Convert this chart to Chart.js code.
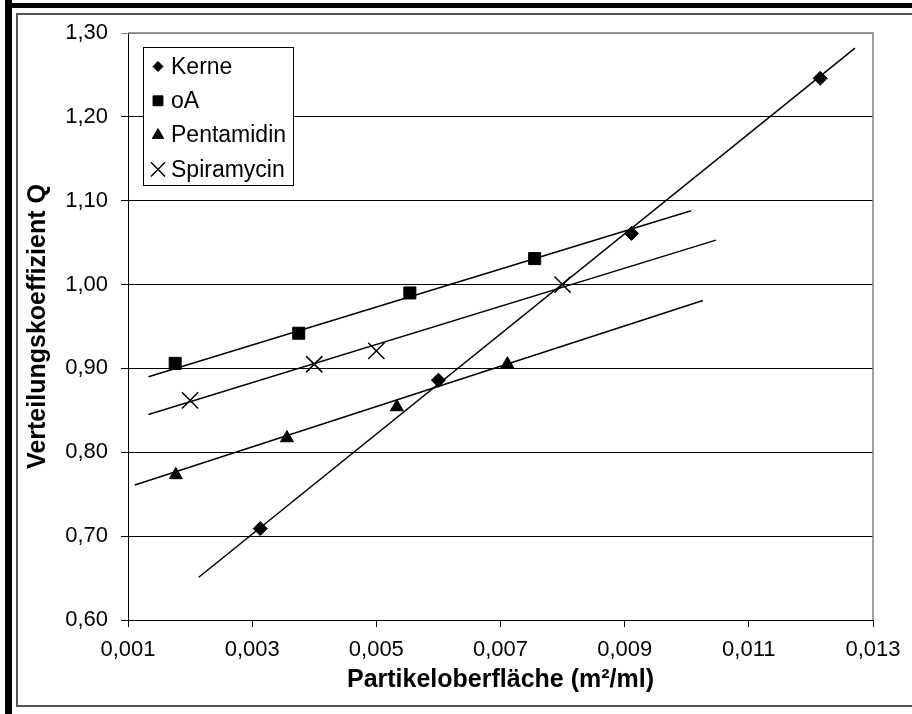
<!DOCTYPE html>
<html>
<head>
<meta charset="utf-8">
<script src="https://cdn.jsdelivr.net/npm/chart.js@4.4.1/dist/chart.umd.min.js"></script>
<style>
    html, body { margin: 0; padding: 0; background: #fff; }
    canvas { display: block; }
</style>
</head>
<body>
<canvas id="chart" width="912" height="714"></canvas>
<script>
var kerneX = [0.00313, 0.00600, 0.00911, 0.01215];
var kerneY = [0.709, 0.886, 1.061, 1.246];
var oaX = [0.00176, 0.00375, 0.00554, 0.00755];
var oaY = [0.906, 0.942, 0.990, 1.031];
var pentX = [0.00177, 0.00356, 0.00533, 0.00711];
var pentY = [0.773, 0.817, 0.854, 0.905];
var spiraX = [0.0020, 0.0040, 0.0050, 0.0080];
var spiraY = [0.862, 0.905, 0.921, 1.000];

// Trendlinien: Anfangs- und Endpunkt
var kerneFitX = [0.00214, 0.01271];
var kerneFitY = [0.651, 1.282];
var oaFitX = [0.00133, 0.01007];
var oaFitY = [0.890, 1.088];
var pentFitX = [0.00111, 0.01026];
var pentFitY = [0.761, 0.981];
var spiraFitX = [0.00133, 0.01047];
var spiraFitY = [0.845, 1.053];

var xTicks = [0.001, 0.003, 0.005, 0.007, 0.009, 0.011, 0.013];
var yTicks = [0.6, 0.7, 0.8, 0.9, 1.0, 1.1, 1.2, 1.3];

var FONT = "'Liberation Sans', Arial, sans-serif";

function toPoints(xs, ys) {
    var pts = [];
    for (var i = 0; i < xs.length; i++) {
        pts.push({ x: xs[i], y: ys[i] });
    }
    return pts;
}

function markers(label, xs, ys, style, radius, legendRadius, width) {
    return {
        label: label,
        data: toPoints(xs, ys),
        showLine: false,
        pointStyle: style,
        pointRadius: radius,
        pointBackgroundColor: '#000',
        pointBorderColor: '#000',
        pointBorderWidth: width,
        legendRadius: legendRadius,
        inLegend: true,
        order: 1
    };
}

function trend(xs, ys) {
    return {
        data: toPoints(xs, ys),
        showLine: true,
        borderColor: '#000',
        borderWidth: 1.5,
        pointRadius: 0,
        order: 2
    };
}

// Rahmen um das ganze Diagramm
var framePlugin = {
    id: 'frame',
    beforeDraw: function (chart) {
        var ctx = chart.ctx;
        ctx.save();
        ctx.fillStyle = '#fff';
        ctx.fillRect(0, 0, chart.width, chart.height);
        ctx.fillStyle = '#000';
        ctx.fillRect(5, 0, 7, chart.height);
        ctx.fillRect(5, 3, chart.width, 5);
        ctx.strokeStyle = '#555';
        ctx.lineWidth = 2;
        ctx.beginPath();
        ctx.moveTo(chart.width, 14);
        ctx.lineTo(17, 14);
        ctx.lineTo(17, 706);
        ctx.lineTo(chart.width, 706);
        ctx.stroke();
        ctx.restore();
    }
};

// grauer Rahmen der Zeichnungsfläche
var plotBorder = {
    id: 'plotBorder',
    beforeDatasetsDraw: function (chart) {
        var a = chart.chartArea;
        var ctx = chart.ctx;
        ctx.save();
        ctx.strokeStyle = '#808080';
        ctx.lineWidth = 1.5;
        ctx.beginPath();
        ctx.moveTo(a.left, a.top);
        ctx.lineTo(a.right, a.top);
        ctx.lineTo(a.right, a.bottom);
        ctx.stroke();
        ctx.restore();
    }
};

// Legende innerhalb der Zeichnungsfläche, mit Rahmen
var legendBox = {
    id: 'legendBox',
    afterDatasetsDraw: function (chart) {
        var a = chart.chartArea;
        var ctx = chart.ctx;
        var items = chart.data.datasets.filter(function (ds) { return ds.inLegend; });
        var left = a.left + 15, top = a.top + 14, w = 150, rowH = 34.3;
        var h = 138;
        ctx.save();
        ctx.fillStyle = '#fff';
        ctx.fillRect(left, top, w, h);
        ctx.strokeStyle = '#000';
        ctx.lineWidth = 1;
        ctx.strokeRect(left + 0.5, top + 0.5, w, h);
        ctx.font = '23px ' + FONT;
        ctx.textBaseline = 'middle';
        ctx.textAlign = 'left';
        for (var i = 0; i < items.length; i++) {
            var ds = items[i];
            var cy = top + 19.5 + i * rowH;
            ctx.fillStyle = '#000';
            ctx.strokeStyle = '#000';
            ctx.lineWidth = ds.pointBorderWidth;
            Chart.helpers.drawPoint(ctx, {
                pointStyle: ds.pointStyle,
                radius: ds.legendRadius,
                rotation: 0,
                borderWidth: ds.pointBorderWidth
            }, left + 15, cy);
            ctx.fillStyle = '#000';
            ctx.fillText(ds.label, left + 28, cy + 1);
        }
        ctx.restore();
    }
};

var ctx = document.getElementById('chart').getContext('2d');
var chart = new Chart(ctx, {
    type: 'scatter',
    data: {
        datasets: [
            markers('Kerne', kerneX, kerneY, 'rectRot', 7, 5, 1),
            markers('oA', oaX, oaY, 'rect', 8.5, 7, 1),
            markers('Pentamidin', pentX, pentY, 'triangle', 7.5, 6.5, 1),
            markers('Spiramycin', spiraX, spiraY, 'crossRot', 11.5, 10, 1.5),
            trend(kerneFitX, kerneFitY),
            trend(oaFitX, oaFitY),
            trend(pentFitX, pentFitY),
            trend(spiraFitX, spiraFitY)
        ]
    },
    options: {
        responsive: false,
        animation: false,
        devicePixelRatio: 1,
        layout: { padding: { left: 0, top: 33, right: 39, bottom: 0 } },
        plugins: {
            legend: { display: false },
            tooltip: { enabled: false }
        },
        scales: {
            x: {
                type: 'linear',
                min: 0.001,
                max: 0.013,
                afterBuildTicks: function (scale) {
                    scale.ticks = xTicks.map(function (v) { return { value: v }; });
                },
                afterFit: function (scale) { scale.height = 94; },
                ticks: {
                    autoSkip: false,
                    maxRotation: 0,
                    padding: 10,
                    color: '#000',
                    font: { family: FONT, size: 22 },
                    callback: function (v) { return v.toFixed(3).replace('.', ','); }
                },
                grid: { drawOnChartArea: false, drawTicks: true, tickLength: 7, color: '#000' },
                border: { color: '#000', width: 1 },
                title: {
                    display: true,
                    text: 'Partikeloberfläche (m²/ml)',
                    color: '#000',
                    font: { family: FONT, size: 25, weight: 'bold' },
                    padding: { top: 0, bottom: 19 }
                }
            },
            y: {
                type: 'linear',
                min: 0.6,
                max: 1.3,
                afterBuildTicks: function (scale) {
                    scale.ticks = yTicks.map(function (v) { return { value: v }; });
                },
                afterFit: function (scale) { scale.width = 128; },
                ticks: {
                    padding: 13,
                    color: '#000',
                    font: { family: FONT, size: 22 },
                    callback: function (v) { return v.toFixed(2).replace('.', ','); }
                },
                grid: {
                    tickLength: 7,
                    color: function (c) {
                        return (c.tick && c.tick.value > 1.25) ? '#808080' : '#000';
                    }
                },
                border: { color: '#000', width: 1 },
                title: {
                    display: true,
                    text: 'Verteilungskoeffizient Q',
                    color: '#000',
                    font: { family: FONT, size: 25, weight: 'bold' },
                    padding: { top: 23, bottom: 0 }
                }
            }
        }
    },
    plugins: [framePlugin, plotBorder, legendBox]
});
</script>
</body>
</html>
